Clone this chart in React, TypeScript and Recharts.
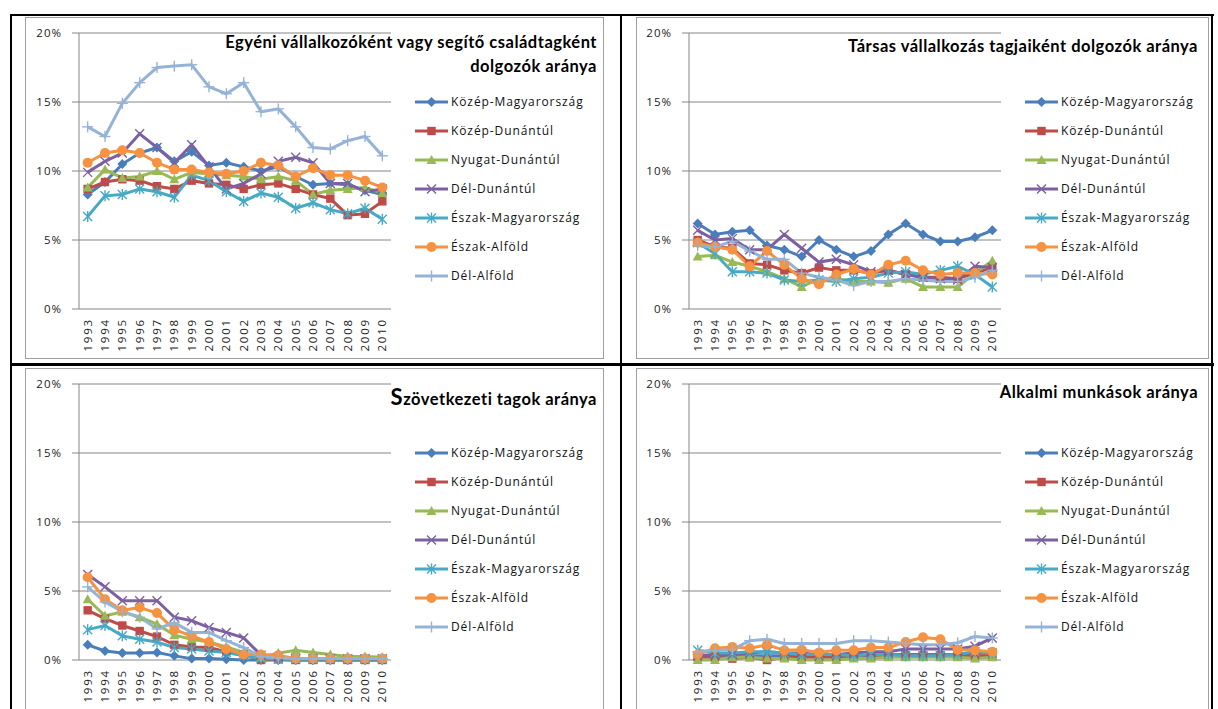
import React from "react";
import { LineChart, Line, XAxis, YAxis, CartesianGrid } from "recharts";

const years = [
  "1993", "1994", "1995", "1996", "1997", "1998", "1999", "2000", "2001",
  "2002", "2003", "2004", "2005", "2006", "2007", "2008", "2009", "2010",
];

const regions = [
  "Közép-Magyarország",
  "Közép-Dunántúl",
  "Nyugat-Dunántúl",
  "Dél-Dunántúl",
  "Észak-Magyarország",
  "Észak-Alföld",
  "Dél-Alföld",
];

const colors = ["#4A7EBB", "#BE4B48", "#98B954", "#7D60A0", "#46AAC5", "#F69240", "#95B3D7"];
const shapes = ["diamond", "square", "triangle", "x", "star", "circle", "plus"];
const yTicks = [0, 5, 10, 15, 20];

// rows follow the order of `regions`, values in %
const egyeni = [
  [8.3, 9.2, 10.5, 11.3, 11.7, 10.7, 11.4, 10.4, 10.6, 10.3, 10.0, 10.3, 9.6, 9.0, 9.1, 9.0, 8.6, 8.3],
  [8.7, 9.2, 9.4, 9.3, 8.9, 8.7, 9.3, 9.1, 9.0, 8.7, 9.0, 9.1, 8.7, 8.3, 8.0, 6.8, 6.9, 7.8],
  [8.8, 10.1, 9.5, 9.6, 10.0, 9.4, 9.9, 9.8, 9.7, 9.6, 9.4, 9.6, 9.3, 8.3, 8.6, 8.7, 8.8, 8.4],
  [9.9, 10.7, 11.3, 12.7, 11.7, 10.6, 11.9, 10.3, 8.7, 9.1, 9.8, 10.7, 11.0, 10.6, 9.1, 9.1, 8.5, 8.7],
  [6.7, 8.2, 8.3, 8.7, 8.5, 8.1, 9.7, 9.3, 8.5, 7.8, 8.4, 8.1, 7.3, 7.7, 7.2, 6.9, 7.3, 6.5],
  [10.6, 11.3, 11.5, 11.3, 10.6, 10.1, 10.1, 9.9, 9.8, 10.0, 10.6, 10.4, 9.6, 10.2, 9.7, 9.7, 9.3, 8.8],
  [13.2, 12.5, 14.9, 16.4, 17.5, 17.6, 17.7, 16.1, 15.6, 16.4, 14.3, 14.5, 13.2, 11.7, 11.6, 12.2, 12.5, 11.1],
];

const tarsas = [
  [6.2, 5.4, 5.6, 5.7, 4.6, 4.3, 3.8, 5.0, 4.3, 3.8, 4.2, 5.4, 6.2, 5.4, 4.9, 4.9, 5.2, 5.7],
  [5.0, 4.5, 4.4, 3.3, 3.2, 2.8, 2.6, 3.0, 2.8, 2.8, 2.6, 2.8, 2.5, 2.3, 2.3, 2.2, 2.6, 3.0],
  [3.8, 3.9, 3.4, 3.1, 2.7, 2.2, 1.6, 2.2, 2.2, 2.0, 2.0, 1.9, 2.2, 1.6, 1.6, 1.6, 2.6, 3.5],
  [5.7, 5.0, 5.1, 4.3, 4.3, 5.4, 4.4, 3.4, 3.6, 3.2, 2.7, 2.8, 2.5, 2.3, 2.2, 2.1, 3.1, 3.0],
  [4.8, 4.0, 2.7, 2.7, 2.6, 2.1, 2.0, 2.1, 2.0, 2.2, 2.3, 2.6, 2.7, 2.5, 2.8, 3.1, 2.5, 1.6],
  [4.8, 4.5, 4.3, 3.1, 4.2, 3.2, 2.2, 1.8, 2.5, 2.9, 2.5, 3.2, 3.5, 2.8, 2.5, 2.6, 2.6, 2.5],
  [4.6, 4.5, 4.9, 4.2, 3.6, 3.6, 2.6, 2.3, 2.1, 1.7, 2.0, 2.0, 2.2, 2.1, 2.0, 2.0, 2.3, 2.8],
];

const szovetkezeti = [
  [1.1, 0.65, 0.5, 0.5, 0.55, 0.3, 0.1, 0.1, 0.05, 0, 0, 0, 0, 0, 0, 0, 0, 0],
  [3.6, 3.0, 2.5, 2.1, 1.7, 1.1, 0.95, 0.9, 0.6, 0.4, 0, 0.05, 0, 0, 0, 0, 0, 0],
  [4.4, 3.2, 3.5, 3.1, 2.6, 1.8, 1.5, 1.3, 0.95, 0.55, 0.2, 0.5, 0.7, 0.55, 0.4, 0.25, 0.25, 0.2],
  [6.2, 5.3, 4.3, 4.3, 4.3, 3.1, 2.85, 2.35, 2.0, 1.6, 0.35, 0.2, 0.1, 0.1, 0.1, 0.1, 0.1, 0.1],
  [2.2, 2.5, 1.75, 1.5, 1.3, 0.9, 0.8, 0.65, 0.55, 0.3, 0.1, 0.05, 0.05, 0.05, 0.05, 0.05, 0.05, 0.05],
  [6.0, 4.4, 3.6, 3.8, 3.4, 2.2, 1.75, 1.3, 0.8, 0.4, 0.4, 0.35, 0.1, 0.1, 0.1, 0.1, 0.1, 0.1],
  [5.3, 4.2, 3.5, 3.1, 2.25, 2.7, 2.0, 2.0, 1.4, 0.9, 0.25, 0.15, 0.1, 0.1, 0.1, 0.1, 0.1, 0.1],
];

const alkalmi = [
  [0.3, 0.3, 0.3, 0.3, 0.3, 0.3, 0.3, 0.3, 0.3, 0.3, 0.3, 0.4, 0.4, 0.4, 0.4, 0.4, 0.5, 0.5],
  [0.2, 0.2, 0.1, 0.2, 0, 0.2, 0.2, 0.2, 0.2, 0.2, 0.2, 0.3, 0.3, 0.3, 0.3, 0.3, 0.3, 0.3],
  [0, 0, 0.2, 0.2, 0.1, 0.1, 0, 0, 0, 0.1, 0.1, 0.2, 0.2, 0.2, 0.2, 0.2, 0.1, 0.2],
  [0.3, 0.4, 0.4, 0.5, 0.6, 0.5, 0.5, 0.4, 0.4, 0.5, 0.6, 0.6, 0.8, 0.8, 0.8, 0.8, 1.0, 1.6],
  [0.7, 0.5, 0.5, 0.6, 0.6, 0.5, 0.4, 0.4, 0.4, 0.3, 0.4, 0.4, 0.3, 0.3, 0.3, 0.4, 0.6, 0.5],
  [0.4, 0.85, 0.95, 0.85, 1.1, 0.7, 0.75, 0.55, 0.7, 0.7, 0.9, 0.9, 1.3, 1.65, 1.5, 0.75, 0.7, 0.6],
  [0.6, 0.7, 0.75, 1.4, 1.5, 1.2, 1.2, 1.2, 1.2, 1.4, 1.4, 1.3, 1.2, 1.1, 1.1, 1.25, 1.7, 1.6],
];

const axisFont = "'Open Sans', sans-serif";
const titleFont = "Lato, 'Open Sans', sans-serif";
const gray = "#868686";

function Marker({ cx, cy, shape, color }: { cx?: number; cy?: number; shape: string; color: string }) {
  if (cx == null || cy == null) return null;
  const s = 5;
  switch (shape) {
    case "diamond":
      return <polygon points={`${cx},${cy - s} ${cx + s},${cy} ${cx},${cy + s} ${cx - s},${cy}`} fill={color} />;
    case "square":
      return <rect x={cx - 4.2} y={cy - 4.2} width={8.4} height={8.4} fill={color} />;
    case "triangle":
      return <polygon points={`${cx},${cy - s} ${cx + s},${cy + 4} ${cx - s},${cy + 4}`} fill={color} />;
    case "x":
      return (
        <g stroke={color} strokeWidth={1.4}>
          <line x1={cx - 4.5} y1={cy - 4.5} x2={cx + 4.5} y2={cy + 4.5} />
          <line x1={cx - 4.5} y1={cy + 4.5} x2={cx + 4.5} y2={cy - 4.5} />
        </g>
      );
    case "star":
      return (
        <g stroke={color} strokeWidth={1.4}>
          <line x1={cx - 4.5} y1={cy - 4.5} x2={cx + 4.5} y2={cy + 4.5} />
          <line x1={cx - 4.5} y1={cy + 4.5} x2={cx + 4.5} y2={cy - 4.5} />
          <line x1={cx} y1={cy - 5.5} x2={cx} y2={cy + 5.5} />
        </g>
      );
    case "circle":
      return <circle cx={cx} cy={cy} r={5} fill={color} />;
    default:
      return (
        <g stroke={color} strokeWidth={1.4}>
          <line x1={cx} y1={cy - 5.5} x2={cx} y2={cy + 5.5} />
          <line x1={cx - 5.5} y1={cy} x2={cx + 5.5} y2={cy} />
        </g>
      );
  }
}

function YearTick(props: any) {
  const { x, y, payload } = props;
  const label = years[Math.floor(payload.value)];
  return (
    <text
      x={x}
      y={y}
      transform={`rotate(-90 ${x} ${y})`}
      textAnchor="end"
      dy="0.35em"
      fontSize={11.5}
      letterSpacing={1.8}
      fill="#222"
      fontFamily={axisFont}
    >
      {label}
    </text>
  );
}

const boundaries = Array.from({ length: years.length + 1 }, (_, i) => i);
const centers = years.map((_, i) => i + 0.5);

type PanelProps = {
  left: number;
  top: number;
  title: React.ReactNode;
  titleTop: number;
  titleRight: number;
  values: number[][];
};

function Panel({ left, top, title, titleTop, titleRight, values }: PanelProps) {
  const data = years.map((year, i) => {
    const row: Record<string, number | string> = { x: i + 0.5, year };
    values.forEach((serie, k) => {
      row[`s${k}`] = serie[i];
    });
    return row;
  });

  return (
    <div style={{ position: "absolute", left, top, width: 600, height: 360 }}>
      <LineChart width={600} height={360} data={data} margin={{ top: 33, right: 209, bottom: 0, left: 0 }}>
        <CartesianGrid vertical={false} stroke={gray} xAxisId="b_lab" />
        <XAxis
          xAxisId="a_tick"
          type="number"
          dataKey="x"
          domain={[0, 18]}
          ticks={boundaries}
          tick={false}
          tickSize={6}
          height={0}
          stroke={gray}
        />
        <XAxis
          xAxisId="b_lab"
          type="number"
          dataKey="x"
          domain={[0, 18]}
          ticks={centers}
          interval={0}
          axisLine={false}
          tickLine={false}
          tickSize={0}
          tickMargin={9}
          tick={<YearTick />}
          height={51}
        />
        <YAxis
          type="number"
          domain={[0, 20]}
          ticks={yTicks}
          width={79}
          tickSize={7}
          tickMargin={10}
          stroke={gray}
          tickFormatter={(v: number) => `${v}%`}
          tick={{ fontSize: 11.5, fill: "#222", fontFamily: axisFont, letterSpacing: 1 }}
        />
        {regions.map((name, k) => (
          <Line
            key={name}
            xAxisId="b_lab"
            dataKey={`s${k}`}
            name={name}
            stroke={colors[k]}
            strokeWidth={3}
            type="linear"
            isAnimationActive={false}
            dot={(p: any) => (
              <Marker key={`m${k}-${p.index}`} cx={p.cx} cy={p.cy} shape={shapes[k]} color={colors[k]} />
            )}
            activeDot={false}
          />
        ))}
      </LineChart>

      <div
        style={{
          position: "absolute",
          right: titleRight,
          top: titleTop,
          textAlign: "right",
          fontFamily: titleFont,
          fontWeight: 700,
          fontSize: 16.5,
          lineHeight: "24px",
          color: "#000",
          letterSpacing: 0.5,
          whiteSpace: "nowrap",
        }}
      >
        {title}
      </div>

      <svg style={{ position: "absolute", left: 0, top: 0 }} width={600} height={360}>
        {regions.map((name, k) => {
          const y = 102 + k * 29;
          return (
            <g key={name}>
              <line x1={415} x2={448} y1={y} y2={y} stroke={colors[k]} strokeWidth={3} />
              <Marker cx={431.5} cy={y} shape={shapes[k]} color={colors[k]} />
              <text
                x={451}
                y={y}
                dy="0.35em"
                fontSize={12}
                letterSpacing={0.9}
                fontFamily={axisFont}
                fill="#111"
              >
                {name}
              </text>
            </g>
          );
        })}
      </svg>
    </div>
  );
}

const frame = (left: number, top: number, width: number, height: number, color: string) => (
  <div style={{ position: "absolute", left, top, width, height, background: color }} />
);

const box = (left: number, top: number, width: number, height: number) => (
  <div
    style={{
      position: "absolute",
      left,
      top,
      width,
      height,
      border: "1px solid #a0a0a0",
      boxSizing: "border-box",
    }}
  />
);

export default function App() {
  return (
    <div
      style={{
        position: "relative",
        width: 1218,
        height: 709,
        overflow: "hidden",
        background: "#fff",
      }}
    >
      <style>{"body{margin:0}"}</style>
      {box(25, 17, 579, 342)}
      {box(636, 17, 573, 342)}
      {box(25, 368, 579, 360)}
      {box(636, 368, 573, 360)}
      {frame(10, 14, 1204, 2, "#000")}
      {frame(10, 14, 2, 700, "#000")}
      {frame(620, 14, 2, 700, "#000")}
      {frame(1211, 14, 2, 700, "#000")}
      {frame(10, 363, 1204, 3, "#000")}

      <Panel
        left={0}
        top={0}
        values={egyeni}
        titleTop={30}
        titleRight={3}
        title={
          <>
            Egyéni vállalkozóként vagy segítő családtagként
            <br />
            dolgozók aránya
          </>
        }
      />
      <Panel
        left={610}
        top={0}
        values={tarsas}
        titleTop={34}
        titleRight={12}
        title="Társas vállalkozás tagjaiként dolgozók aránya"
      />
      <Panel
        left={0}
        top={351}
        values={szovetkezeti}
        titleTop={34}
        titleRight={3}
        title={
          <>
            <span style={{ fontSize: 22 }}>S</span>zövetkezeti tagok aránya
          </>
        }
      />
      <Panel
        left={610}
        top={351}
        values={alkalmi}
        titleTop={29}
        titleRight={12}
        title="Alkalmi munkások aránya"
      />
    </div>
  );
}
